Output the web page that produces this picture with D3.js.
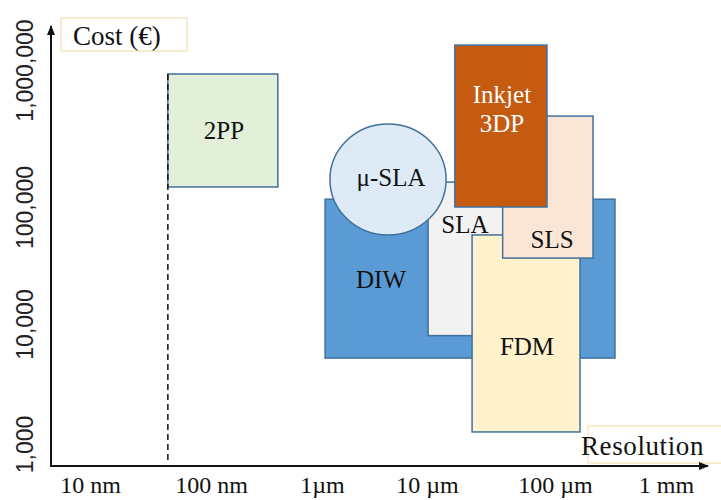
<!DOCTYPE html>
<html><head><meta charset="utf-8">
<script src="https://cdn.jsdelivr.net/npm/d3@7"></script>
<style>html,body{margin:0;padding:0;background:#fff;} svg{display:block;}</style>
</head><body><svg id="chart" width="721" height="500"></svg>
<script>
// ---- data ----
const xTickValues = [0.01, 0.1, 1, 10, 100, 1000]; // resolution in µm
const xTickLabels = ["10 nm", "100 nm", "1µm", "10 µm", "100 µm", "1 mm"];
const yTickValues = [1000, 10000, 100000, 1000000]; // cost in €
const yTickLabels = ["1,000", "10,000", "100,000", "1,000,000"];

const technologies  = ["DIW", "SLA", "FDM", "SLS", "Inkjet 3DP", "2PP"];
const resolutionMin = [1.07, 10.2, 22.5, 39, 16.5, 0.044];
const resolutionMax = [347, 110, 168, 220, 86.6, 0.40];
const costMin       = [5200, 8000, 1260, 36600, 100000, 140000];
const costMax       = [114000, 152000, 57700, 461000, 1520000, 935000];
const labelRes      = [3.65, 19.8, 60.4, 94.8, 38.5, 0.131];
const labelCost     = [24300, 71600, 6560, 53300, 524000, 365000];

const circleTech = "μ-SLA";
const circleResRange = [1.19, 14.1];
const circleCostRange = [57700, 404000];
const circleLabelRes = 4.54;
const circleLabelCost = 166000;

const xAxisTitle = "Resolution";
const yAxisTitle = "Cost (€)";

// ---- styles ----
const fills = {"DIW":"#5b9bd5","SLA":"#f2f2f2","FDM":"#fff2cc","SLS":"#fbe5d6","Inkjet 3DP":"#c55a11","2PP":"#e2f0d9","μ-SLA":"#deebf7"};
const textColors = {"Inkjet 3DP":"#ffffff"};
const edge = "#41719c";
const serif = "'Liberation Serif','Times New Roman',serif";

const svg = d3.select("#chart");
const axisX0 = 51, axisY0 = 466, axisXEnd = 708, axisYEnd = 26;

const x = d3.scaleLog().domain(xTickValues).range([90, 211, 322, 427, 555, 666]);
const y = d3.scaleLog().domain(yTickValues).range([444, 324, 207, 70]);

// arrow marker
svg.append("defs").append("marker")
  .attr("id","arr").attr("viewBox","0 0 10 10").attr("refX",9).attr("refY",5)
  .attr("markerWidth",5).attr("markerHeight",5).attr("orient","auto")
  .append("path").attr("d","M0,1 L10,5 L0,9 Z").attr("fill","#111");

// title boxes
svg.append("rect").attr("x",61).attr("y",18).attr("width",126).attr("height",33)
  .attr("fill","#fff").attr("stroke","#f8e8c0").attr("stroke-width",1.5);
svg.append("text").attr("x",73).attr("y",45).attr("font-family",serif).attr("font-size",27)
  .attr("fill","#111").text(yAxisTitle);
svg.append("rect").attr("x",588).attr("y",426).attr("width",140).attr("height",37)
  .attr("fill","#fff").attr("stroke","#f8e8c0").attr("stroke-width",1.5);
svg.append("text").attr("x",581).attr("y",455).attr("font-family",serif).attr("font-size",27)
  .attr("letter-spacing",0.6).attr("fill","#111").text(xAxisTitle);

// axes lines
svg.append("line").attr("x1",axisX0).attr("y1",axisY0).attr("x2",axisX0).attr("y2",axisYEnd)
  .attr("stroke","#111").attr("stroke-width",2).attr("marker-end","url(#arr)");
svg.append("line").attr("x1",axisX0-1).attr("y1",axisY0).attr("x2",axisXEnd).attr("y2",axisY0)
  .attr("stroke","#111").attr("stroke-width",2).attr("marker-end","url(#arr)");

// tick labels via d3 axes
const gx = svg.append("g").attr("transform",`translate(0,${axisY0})`)
  .call(d3.axisBottom(x).tickValues(xTickValues).tickFormat((d,i)=>xTickLabels[i]).tickSize(0));
gx.select(".domain").remove();
gx.selectAll("text").attr("y",27).attr("dy",null).attr("font-family",serif).attr("font-size",24).attr("fill","#111");

const gy = svg.append("g").attr("transform","translate(33,0)")
  .call(d3.axisLeft(y).tickValues(yTickValues).tickFormat((d,i)=>yTickLabels[i]).tickSize(0));
gy.select(".domain").remove();
gy.selectAll(".tick").each(function(){
  const t = d3.select(this).select("text");
  t.attr("x",0).attr("dy",null).attr("text-anchor","middle")
   .attr("transform","rotate(-90)")
   .attr("font-family","'Liberation Sans',Arial,sans-serif").attr("font-size",23).attr("fill","#222");
});

// rectangles
const idx = d3.range(technologies.length);
svg.append("g").selectAll("rect").data(idx).join("rect")
  .attr("x", i => x(resolutionMin[i]))
  .attr("y", i => y(costMax[i]))
  .attr("width", i => x(resolutionMax[i]) - x(resolutionMin[i]))
  .attr("height", i => y(costMin[i]) - y(costMax[i]))
  .attr("fill", i => fills[technologies[i]])
  .attr("stroke", edge).attr("stroke-width",1.5);

// circle (μ-SLA)
const cx0 = x(circleResRange[0]), cx1 = x(circleResRange[1]);
const cy0 = y(circleCostRange[1]), cy1 = y(circleCostRange[0]);
svg.append("ellipse")
  .attr("cx",(cx0+cx1)/2).attr("cy",(cy0+cy1)/2)
  .attr("rx",(cx1-cx0)/2).attr("ry",(cy1-cy0)/2)
  .attr("fill",fills[circleTech]).attr("stroke",edge).attr("stroke-width",1.5);

// dashed line at 2PP lower resolution limit
const i2 = technologies.indexOf("2PP");
svg.append("line")
  .attr("x1",x(resolutionMin[i2])).attr("x2",x(resolutionMin[i2]))
  .attr("y1",y(costMax[i2])).attr("y2",axisY0-3)
  .attr("stroke","#111").attr("stroke-width",1.5).attr("stroke-dasharray","6,4");

// labels
const lab = svg.append("g").attr("font-family",serif).attr("font-size",25).attr("text-anchor","middle");
idx.forEach(i => {
  const name = technologies[i];
  const lines = name === "Inkjet 3DP" ? ["Inkjet","3DP"] : [name];
  const t = lab.append("text").attr("x",x(labelRes[i])).attr("y",y(labelCost[i]))
    .attr("fill", textColors[name] || "#111");
  lines.forEach((s,k) => {
    t.append("tspan").attr("x",x(labelRes[i]))
     .attr("dy", k===0 ? `${0.35 - (lines.length-1)*0.58}em` : "1.16em").text(s);
  });
});
lab.append("text").attr("x",x(circleLabelRes)).attr("y",y(circleLabelCost)).attr("dy","0.35em")
  .attr("fill","#111").text(circleTech);
</script></body></html>
